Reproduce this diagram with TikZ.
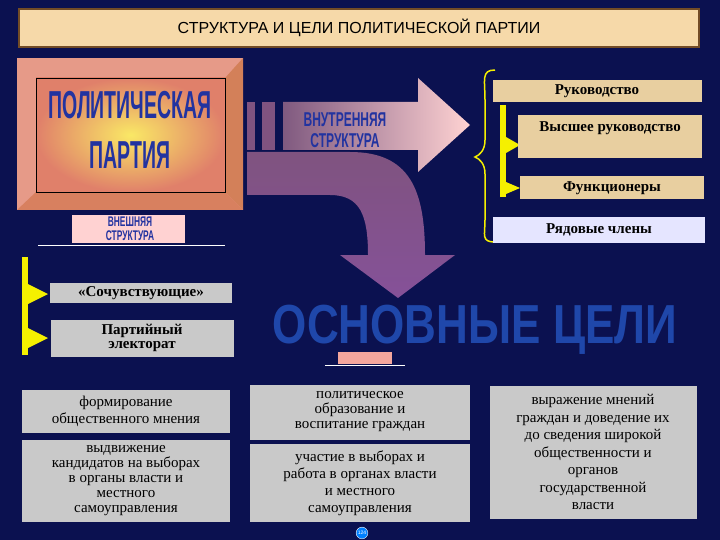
\documentclass[tikz,border=0pt]{standalone}
\usepackage{fontspec}
\setmainfont{Liberation Serif}
\newfontfamily\hsans{Liberation Sans}
\newfontfamily\cond{Liberation Sans}[FakeStretch=0.6]
\newfontfamily\xcond{Liberation Sans}[FakeStretch=0.5]
\newfontfamily\gcond{Liberation Sans}[FakeStretch=0.8]
\usetikzlibrary{shadings}
\definecolor{navy}{HTML}{0B1150}
\definecolor{peach}{HTML}{F6D9A9}
\definecolor{tan}{HTML}{E8CFA0}
\definecolor{marble}{HTML}{C9C9C9}
\definecolor{salmon}{HTML}{E0806A}
\definecolor{ttlblue}{HTML}{2233A0}
\definecolor{yel}{HTML}{F5F000}
\begin{document}
\begin{tikzpicture}[x=1pt,y=-1pt,
  tanbox/.style={fill=tan,draw=none,inner sep=0pt,font=\bfseries\fontsize{15}{16}\selectfont,text=black},
  marblebox/.style={fill=marble,draw=none,inner sep=2pt,align=center,font=\fontsize{15}{15}\selectfont,text=black},
  bigtitle/.style={font=\hsans\bfseries,text=ttlblue,align=center},
  ybar/.style={fill=yel,draw=none}]
\useasboundingbox (0,0) rectangle (720,540);
\fill[navy] (0,0) rectangle (720,540);
% title
\node[draw=brown!60!black,line width=2pt,fill=peach,minimum width=680pt,minimum height=38pt,font=\hsans\fontsize{16}{18}\selectfont] (title) at (359,28) {СТРУКТУРА И ЦЕЛИ ПОЛИТИЧЕСКОЙ ПАРТИИ};
% party box
\fill[salmon!80!white] (17,58) rectangle (243,210);
\fill[salmon!60!brown] (225,78) -- (243,58) -- (243,210) -- (225,192) -- cycle;
\fill[salmon!75!brown] (36,192) -- (225,192) -- (243,210) -- (17,210) -- cycle;
\shade[inner color=yellow!40!peach,outer color=salmon] (36,78) rectangle (225,192);
\draw[black] (36,78) rectangle (225,192);
\node[bigtitle,font=\xcond\bfseries\fontsize{39}{50}\selectfont] (party) at (130,130) {ПОЛИТИЧЕСКАЯ\\ПАРТИЯ};
% straight arrow
\fill[violet!35!gray] (247,102) rectangle (255,150);
\fill[violet!35!gray] (262,102) rectangle (275,150);
\shade[left color=violet!30!gray,right color=pink!70!white] (283,102) -- (418,102) -- (418,78) -- (470,125) -- (418,172) -- (418,150) -- (283,150) -- cycle;
\node[bigtitle,font=\cond\bfseries\fontsize{20}{21}\selectfont] (inner) at (345,130) {ВНУТРЕННЯЯ\\СТРУКТУРА};
% curved arrow
\shade[top color=violet!35!gray,bottom color=violet!60!navy!70!white] (247,152) -- (350,152) .. controls (410,152) and (425,190) .. (425,255) -- (455,255) -- (398,298) -- (340,255) -- (368,255) .. controls (368,215) and (360,195) .. (330,195) -- (247,195) -- cycle;
% external structure
\fill[pink!70!white] (72,215) rectangle (185,243);
\draw[white,line width=1pt] (38,245) -- (225,245);
\node[bigtitle,font=\cond\bfseries\fontsize{14}{14}\selectfont] (outer) at (130,229) {ВНЕШНЯЯ\\СТРУКТУРА};
% left bracket
\fill[ybar] (22,257) rectangle (28,355);
\fill[ybar] (28,284) -- (48,294) -- (28,304) -- cycle;
\fill[ybar] (28,328) -- (48,338) -- (28,348) -- cycle;
\node[marblebox,minimum width=182pt,minimum height=20pt,font=\bfseries\fontsize{15}{15}\selectfont] (symp) at (141,293) {«Сочувствующие»};
\node[marblebox,minimum width=183pt,minimum height=37pt,font=\bfseries\fontsize{15}{14}\selectfont] (elect) at (142,338) {Партийный\\электорат};
% goals
\node[bigtitle,text=ttlblue!90!cyan,font=\gcond\bfseries\fontsize{55}{56}\selectfont] (goals) at (475,330) {ОСНОВНЫЕ ЦЕЛИ};
\fill[pink!60!salmon] (338,352) rectangle (392,364);
\draw[white] (325,365) -- (405,365);
% right column
\draw[yel,line width=1.5pt] (495,70) .. controls (481,70) and (485,80) .. (485,100) -- (485,140) .. controls (485,150) and (480,155) .. (475,157) .. controls (480,159) and (485,164) .. (485,174) -- (485,220) .. controls (485,235) and (481,242) .. (495,242);
\fill[ybar] (500,105) rectangle (506,197);
\fill[ybar] (506,137) -- (520,145) -- (506,153) -- cycle;
\fill[ybar] (506,182) -- (520,188) -- (506,194) -- cycle;
\node[tanbox,minimum width=209pt,minimum height=22pt] (lead) at (597,91) {Руководство};
\node[tanbox,minimum width=184pt,minimum height=43pt,anchor=north west,text depth=20pt] (top) at (518,115) {Высшее руководство};
\node[tanbox,minimum width=184pt,minimum height=23pt] (func) at (612,188) {Функционеры};
\node[tanbox,fill=blue!10!white,minimum width=212pt,minimum height=25pt] (rank) at (599,230) {Рядовые члены};
% bottom boxes
\node[marblebox,minimum width=208pt,minimum height=43pt,font=\fontsize{15}{17}\selectfont] (b1) at (126,411) {формирование\\общественного мнения};
\node[marblebox,minimum width=208pt,minimum height=82pt,font=\fontsize{15}{15}\selectfont] (b2) at (126,481) {выдвижение\\кандидатов на выборах\\в органы власти и\\местного\\самоуправления};
\node[marblebox,minimum width=220pt,minimum height=55pt,font=\fontsize{15}{15}\selectfont] (b3) at (360,412) {политическое\\образование и\\воспитание граждан};
\node[marblebox,minimum width=220pt,minimum height=78pt,font=\fontsize{15}{17}\selectfont] (b4) at (360,483) {участие в выборах и\\работа в органах власти\\и местного\\самоуправления};
\node[marblebox,minimum width=207pt,minimum height=133pt,font=\fontsize{15}{17.5}\selectfont] (b5) at (593,452) {выражение мнений\\граждан и доведение их\\до сведения широкой\\общественности и\\органов\\государственной\\власти};
\node[circle,draw=white,fill=blue!50!cyan,inner sep=1pt,font=\hsans\fontsize{5}{5}\selectfont,text=white] (pg) at (362,533) {124};
\end{tikzpicture}
\end{document}
